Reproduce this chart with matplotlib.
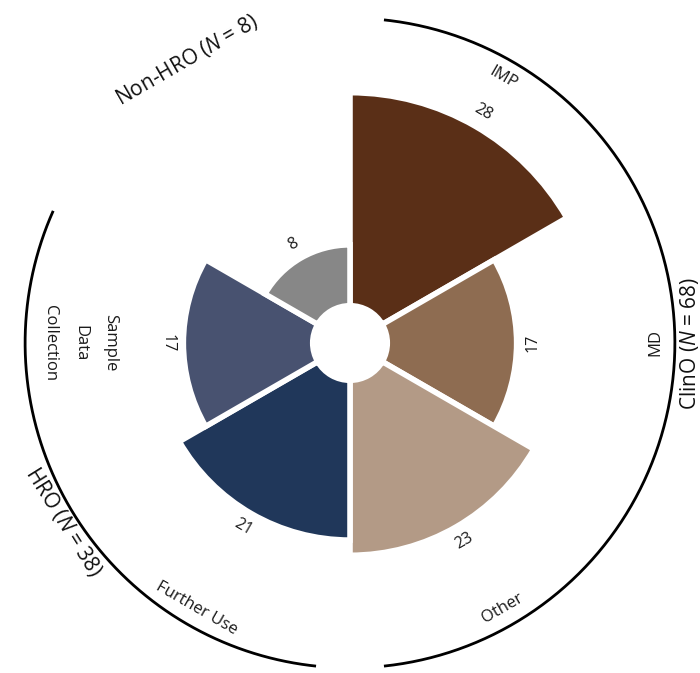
import numpy as np
import matplotlib
matplotlib.use('Agg')
import matplotlib.pyplot as plt

plt.rcParams['font.family'] = ['Open Sans', 'DejaVu Sans']
plt.rcParams['mathtext.fontset'] = 'custom'
plt.rcParams['mathtext.it'] = 'Open Sans:italic'
plt.rcParams['mathtext.rm'] = 'Open Sans'

# wedge data, clockwise from the top
categories = ['IMP', 'MD', 'Other', 'Further Use', 'Sample\nData\nCollection', 'Non-HRO']
values = [28, 17, 23, 21, 17, 8]
colors = ['#5a2f17', '#8e6c51', '#b39a86', '#20375a', '#485270', '#878787']
angles_deg = [60, 0, -60, -120, 180, 120]

# groups: label, N, member categories
group_labels = ['ClinO', 'HRO', 'Non-HRO']
group_n = [68, 38, 8]
group_members = [[0, 1, 2], [3, 4], [5]]

hole = 4.9
rmax = 46.0
arc_r = 42.7


def tangent_rot(deg):
    deg = (deg + 180) % 360 - 180
    if 0 < deg < 180:
        return deg - 90
    return deg + 90


fig = plt.figure(figsize=(7, 6.73), dpi=100)
ax = fig.add_axes([0, (330 - 350) / 673, 1, 700 / 673], projection='polar')
ax.set_ylim(0, rmax)
ax.set_axis_off()

theta = np.deg2rad(angles_deg)
width = np.deg2rad(60)
ax.bar(theta, values, width=width, bottom=hole, color=colors,
       edgecolor='white', linewidth=4, align='center')

# value labels just outside each bar
for t, d, v in zip(theta, angles_deg, values):
    ax.text(t, hole + v + 2.1, str(v), rotation=tangent_rot(d),
            ha='center', va='center', fontsize=11.5, color='#1a1a1a',
            rotation_mode='anchor')

# category labels near the outer ring
for i, (t, d, c) in enumerate(zip(theta, angles_deg, categories)):
    if c.startswith('Non-HRO'):
        continue
    r = 40.2 if '\n' not in c else 35.5
    ax.text(t, r, c, rotation=tangent_rot(d), ha='center', va='center',
            fontsize=12, color='#1a1a1a', rotation_mode='anchor',
            linespacing=2.15)

# group arcs and labels
for g, n, members in zip(group_labels, group_n, group_members):
    a = [angles_deg[m] for m in members]
    a = np.unwrap(np.deg2rad(a))
    lo = np.rad2deg(a.min()) - 30
    hi = np.rad2deg(a.max()) + 30
    mid = (lo + hi) / 2
    label = g + r' ($N$ = ' + str(n) + ')'
    if len(members) > 1:
        arc = np.deg2rad(np.linspace(lo + 6, hi - 6, 300))
        ax.plot(arc, np.full_like(arc, arc_r), color='black', lw=2,
                solid_capstyle='butt')
        lab_r = 44.6 if g == 'ClinO' else 44.3
        lab_a = mid + (2 if g == 'HRO' else 0)
    else:
        lab_r = arc_r + 0.3
        lab_a = mid
    ax.text(np.deg2rad(lab_a), lab_r, label, rotation=tangent_rot(lab_a),
            ha='center', va='center', fontsize=15, color='#111111',
            rotation_mode='anchor')

fig.savefig('out.png', dpi=100)
